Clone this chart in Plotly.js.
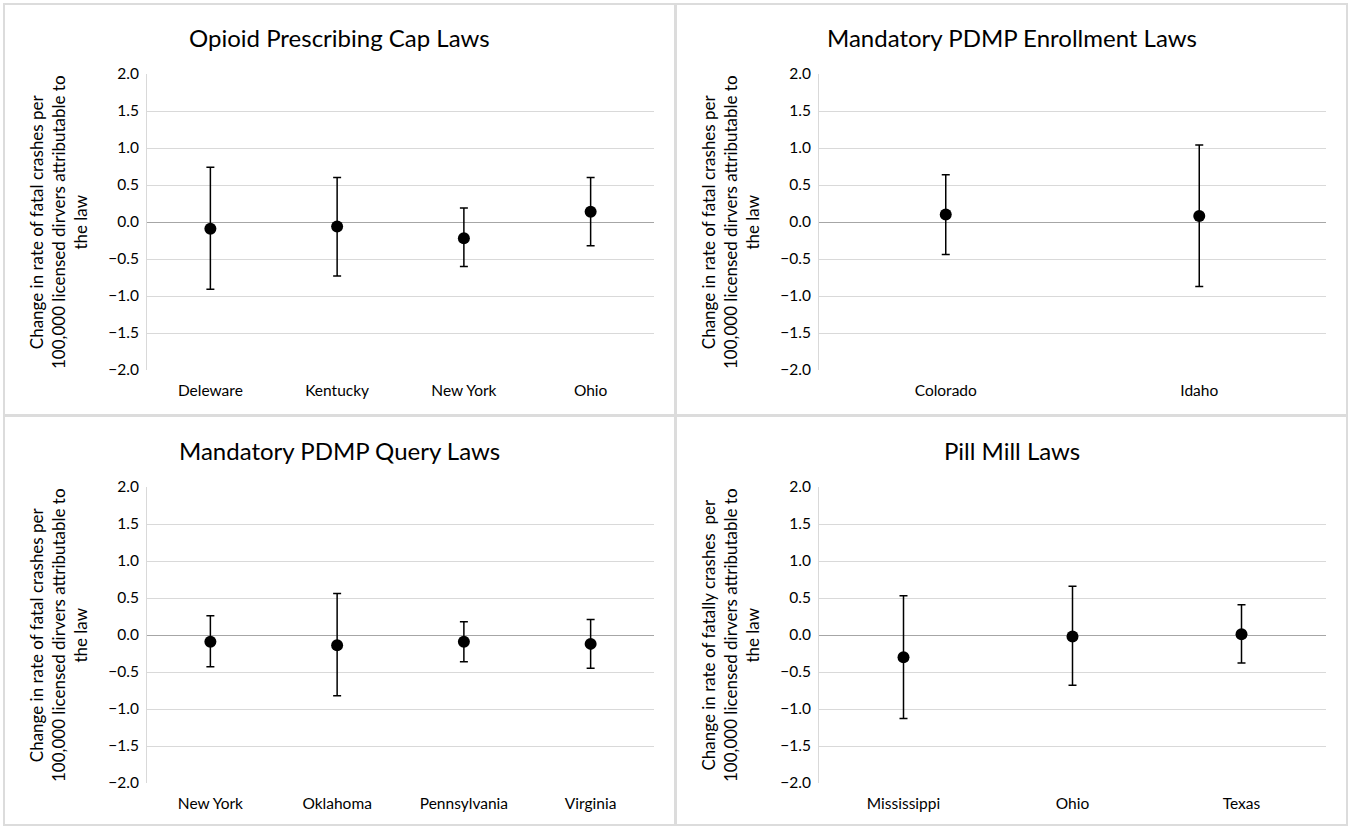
<!DOCTYPE html>
<html>
<head>
<meta charset="utf-8">
<script src="https://cdn.plot.ly/plotly-3.0.1.min.js"></script>
<style>
  html, body { margin: 0; padding: 0; background: #ffffff; }
  #chart { width: 1351px; height: 827px; }
</style>
</head>
<body>
<div id="chart"></div>
<script>
// ---- Data ----
const capStates = ["Deleware", "Kentucky", "New York", "Ohio"];
const capEst    = [-0.09, -0.06, -0.22, 0.14];
const capLow    = [-0.91, -0.73, -0.60, -0.32];
const capHigh   = [0.74, 0.60, 0.19, 0.60];

const enrollStates = ["Colorado", "Idaho"];
const enrollEst    = [0.10, 0.08];
const enrollLow    = [-0.44, -0.87];
const enrollHigh   = [0.64, 1.04];

const queryStates = ["New York", "Oklahoma", "Pennsylvania", "Virginia"];
const queryEst    = [-0.09, -0.14, -0.09, -0.12];
const queryLow    = [-0.43, -0.82, -0.36, -0.45];
const queryHigh   = [0.26, 0.56, 0.18, 0.21];

const pillStates = ["Mississippi", "Ohio", "Texas"];
const pillEst    = [-0.30, -0.02, 0.01];
const pillLow    = [-1.13, -0.68, -0.38];
const pillHigh   = [0.53, 0.66, 0.41];

const panelTitles = ["Opioid Prescribing Cap Laws", "Mandatory PDMP Enrollment Laws",
                     "Mandatory PDMP Query Laws", "Pill Mill Laws"];
const yTitles = [
  "Change in rate of fatal crashes per<br>100,000 licensed dirvers attributable to<br>the law",
  "Change in rate of fatal crashes per<br>100,000 licensed dirvers attributable to<br>the law",
  "Change in rate of fatal crashes per<br>100,000 licensed dirvers attributable to<br>the law",
  "Change in rate of fatally crashes&nbsp; per<br>100,000 licensed dirvers attributable to<br>the law"
];
const yTickVals = [-2, -1.5, -1, -0.5, 0, 0.5, 1, 1.5, 2];

// ---- Layout geometry ----
const W = 1351, H = 827;
const FONT = "Lato, 'Open Sans', sans-serif";
const px = v => v / W;
const py = v => 1 - v / H;

const panels = [
  {cats: capStates,    est: capEst,    lo: capLow,    hi: capHigh,    x0: 147, x1: 654,  y0: 74,  y1: 370, bx0: 4,   bx1: 675,  by0: 4,   by1: 415},
  {cats: enrollStates, est: enrollEst, lo: enrollLow, hi: enrollHigh, x0: 819, x1: 1326, y0: 74,  y1: 370, bx0: 676, bx1: 1347, by0: 4,   by1: 415},
  {cats: queryStates,  est: queryEst,  lo: queryLow,  hi: queryHigh,  x0: 147, x1: 654,  y0: 487, y1: 783, bx0: 4,   bx1: 675,  by0: 416, by1: 825},
  {cats: pillStates,   est: pillEst,   lo: pillLow,   hi: pillHigh,   x0: 819, x1: 1326, y0: 487, y1: 783, bx0: 676, bx1: 1347, by0: 416, by1: 825}
];

const traces = [];
const layout = {
  width: W, height: H,
  margin: {l: 0, r: 0, t: 0, b: 0},
  paper_bgcolor: "#ffffff",
  plot_bgcolor: "#ffffff",
  showlegend: false,
  font: {family: FONT, color: "#000000"},
  shapes: [],
  annotations: []
};

panels.forEach((p, i) => {
  const n = i + 1;
  const xa = "x" + (n === 1 ? "" : n);
  const ya = "y" + (n === 1 ? "" : n);
  traces.push({
    type: "scatter", mode: "markers",
    x: p.cats, y: p.est,
    xaxis: xa, yaxis: ya,
    marker: {color: "#000000", size: 12},
    error_y: {
      type: "data", symmetric: false,
      array: p.hi.map((h, k) => h - p.est[k]),
      arrayminus: p.lo.map((l, k) => p.est[k] - l),
      color: "#000000", thickness: 1.5, width: 4
    },
    hoverinfo: "x+y"
  });
  layout["xaxis" + (n === 1 ? "" : n)] = {
    domain: [px(p.x0), px(p.x1)],
    anchor: ya,
    type: "category",
    range: [-0.5, p.cats.length - 0.5],
    showgrid: false, zeroline: false,
    showline: false,
    ticks: "", ticklabelstandoff: 9,
    tickfont: {family: FONT, size: 15.5, color: "#000000"},
    fixedrange: true
  };
  layout["yaxis" + (n === 1 ? "" : n)] = {
    domain: [py(p.y1), py(p.y0)],
    anchor: xa,
    range: [-2, 2],
    tickvals: yTickVals,
    tickformat: ".1f",
    showgrid: true, gridcolor: "#d9d9d9", gridwidth: 1,
    zeroline: true, zerolinecolor: "#a6a6a6", zerolinewidth: 1,
    showline: true, linecolor: "#d9d9d9", linewidth: 1,
    ticks: "", ticklabelstandoff: 4,
    tickfont: {family: FONT, size: 15.5, color: "#000000"},
    fixedrange: true
  };
  // Panel border
  layout.shapes.push({
    type: "rect", xref: "paper", yref: "paper",
    x0: px(p.bx0), x1: px(p.bx1), y0: py(p.by1), y1: py(p.by0),
    line: {color: "#dcdcdc", width: 2}, fillcolor: "rgba(0,0,0,0)", layer: "below"
  });
  // Panel title
  layout.annotations.push({
    xref: "paper", yref: "paper",
    x: px((p.bx0 + p.bx1) / 2), y: py(p.by0 + 34),
    xanchor: "center", yanchor: "middle",
    text: panelTitles[i], showarrow: false,
    font: {family: FONT, size: 24, color: "#000000"}
  });
  // Y axis title
  layout.annotations.push({
    xref: "paper", yref: "paper",
    x: px(p.bx0 + 54), y: py((p.y0 + p.y1) / 2),
    xanchor: "center", yanchor: "middle",
    text: yTitles[i], showarrow: false, textangle: -90,
    font: {family: FONT, size: 17, color: "#000000"}
  });
});

Plotly.newPlot("chart", traces, layout, {displayModeBar: false, staticPlot: true});
</script>
</body>
</html>
